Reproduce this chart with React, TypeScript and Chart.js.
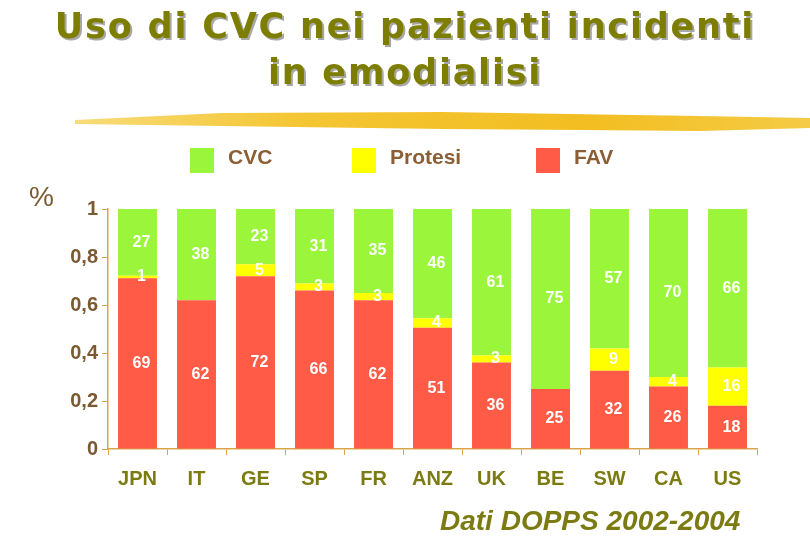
import { useEffect, useRef } from 'react';
import Chart from 'chart.js/auto';

const categories = ['JPN', 'IT', 'GE', 'SP', 'FR', 'ANZ', 'UK', 'BE', 'SW', 'CA', 'US'];
const favValues = [69, 62, 72, 66, 62, 51, 36, 25, 32, 26, 18];
const protesiValues = [1, 0, 5, 3, 3, 4, 3, 0, 9, 4, 16];
const cvcValues = [27, 38, 23, 31, 35, 46, 61, 75, 57, 70, 66];
const yTicks = [0, 0.2, 0.4, 0.6, 0.8, 1];

const seriesNames = ['CVC', 'Protesi', 'FAV'];
const seriesColors = ['#9BF53A', '#FFFF00', '#FF5B47'];

const FONT = '"Liberation Sans", Arial, sans-serif';

// each bar is shown as a share of its own total (the bars all reach 1)
const totals = categories.map((_, i) => favValues[i] + protesiValues[i] + cvcValues[i]);
const share = (vals: number[]) => vals.map((v, i) => v / totals[i]);

const segmentLabels = {
  id: 'segmentLabels',
  afterDatasetsDraw(chart: any) {
    const ctx = chart.ctx;
    ctx.save();
    ctx.font = 'bold 16px ' + FONT;
    ctx.fillStyle = '#ffffff';
    ctx.textAlign = 'center';
    ctx.textBaseline = 'middle';
    chart.data.datasets.forEach((ds: any, di: number) => {
      const meta = chart.getDatasetMeta(di);
      meta.data.forEach((bar: any, i: number) => {
        const v = ds.rawValues[i];
        if (!v) return;
        ctx.fillText(String(v), bar.x + 4, (bar.y + bar.base) / 2);
      });
    });
    ctx.restore();
  }
};

export default function App() {
  const canvasRef = useRef<HTMLCanvasElement | null>(null);

  useEffect(() => {
    if (!canvasRef.current) return;
    const chart = new Chart(canvasRef.current, {
      type: 'bar',
      data: {
        labels: categories,
        datasets: [
          { label: 'FAV', data: share(favValues), rawValues: favValues, backgroundColor: seriesColors[2] } as any,
          { label: 'Protesi', data: share(protesiValues), rawValues: protesiValues, backgroundColor: seriesColors[1] } as any,
          { label: 'CVC', data: share(cvcValues), rawValues: cvcValues, backgroundColor: seriesColors[0] } as any
        ].map(d => ({ ...d, borderWidth: 0, barPercentage: 0.66, categoryPercentage: 1 }))
      },
      options: {
        animation: false,
        responsive: true,
        maintainAspectRatio: false,
        layout: { padding: { top: 209, right: 53, bottom: 0, left: 0 } },
        plugins: { legend: { display: false }, tooltip: { enabled: false } },
        scales: {
          x: {
            stacked: true,
            afterFit: (s: any) => { s.height = 91; },
            border: { color: '#D9A54A', width: 1.5 },
            grid: { drawOnChartArea: false, drawTicks: true, tickLength: 6, color: '#D9A54A', offset: true },
            ticks: { color: '#7B7B12', font: { family: FONT, size: 20, weight: 'bold' }, padding: 12 }
          },
          y: {
            stacked: true,
            min: 0,
            max: 1,
            afterFit: (s: any) => { s.width = 108; },
            afterBuildTicks: (s: any) => { s.ticks = yTicks.map(v => ({ value: v })); },
            border: { color: '#D9A54A', width: 1.5 },
            grid: { drawOnChartArea: false, drawTicks: true, tickLength: 6, color: '#D9A54A' },
            ticks: {
              color: '#7B5A32',
              font: { family: FONT, size: 20, weight: 'bold' },
              padding: 4,
              callback: (v: any) => String(v).replace('.', ',')
            }
          }
        }
      },
      plugins: [segmentLabels]
    });
    return () => chart.destroy();
  }, []);

  const legendX = [190, 352, 536];

  return (
    <div style={{ position: 'fixed', left: 0, top: 0, width: 810, height: 540, background: '#fff', overflow: 'hidden', fontFamily: FONT }}>
      <canvas ref={canvasRef} style={{ position: 'absolute', left: 0, top: 0 }} />
      <div style={{
        position: 'absolute', left: 0, top: 3, width: 810, textAlign: 'center',
        fontFamily: '"DejaVu Sans", sans-serif', fontSize: 35, fontWeight: 'bold', lineHeight: '46px',
        letterSpacing: 1.8, color: '#7D7D00', textShadow: '2px 2px 0 #A8A8A8'
      }}>
        Uso di CVC nei pazienti incidenti<br />in emodialisi
      </div>
      {/* yellow brush stroke under the title */}
      <div style={{
        position: 'absolute', left: 75, top: 108, width: 735, height: 26,
        background: 'linear-gradient(90deg, #F8DC7A 0%, #F4C633 30%, #F2BE22 70%, #F5CB45 100%)',
        clipPath: 'polygon(0% 46%, 20% 19%, 50% 15%, 85% 31%, 100% 38%, 100% 77%, 85% 88%, 50% 81%, 20% 69%, 0% 62%)'
      }} />
      {seriesNames.map((name, i) => (
        <div key={name} style={{ position: 'absolute', left: legendX[i], top: 148, display: 'flex', alignItems: 'center' }}>
          <div style={{ width: 24, height: 25, background: seriesColors[i] }} />
          <span style={{ marginLeft: 14, fontSize: 21, fontWeight: 'bold', color: '#8B5E34', position: 'relative', top: -4 }}>{name}</span>
        </div>
      ))}
      <div style={{ position: 'absolute', left: 29, top: 181, fontSize: 28, color: '#7B5A32' }}>%</div>
      <div style={{
        position: 'absolute', left: 440, top: 505, fontSize: 28, fontWeight: 'bold', fontStyle: 'italic', color: '#7B7B12'
      }}>
        Dati DOPPS 2002-2004
      </div>
    </div>
  );
}
